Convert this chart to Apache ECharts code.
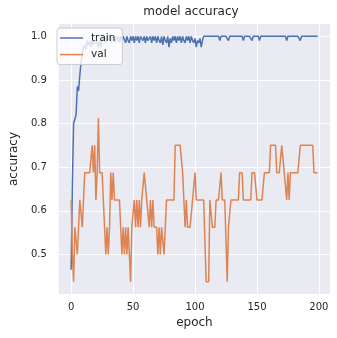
<!DOCTYPE html>
<html>
<head>
<meta charset="utf-8">
<script src="https://cdn.jsdelivr.net/npm/echarts@6/dist/echarts.min.js"></script>
<style>
html,body{margin:0;padding:0;background:#fff;}
#chart{width:337px;height:338px;}
</style>
</head>
<body>
<div id="chart"></div>
<script>
var trainAcc = [
  0.465, 0.66, 0.80, 0.80, 0.82, 0.885, 0.875, 0.91, 0.94, 0.96,
  0.975, 0.98, 0.97, 0.99, 0.98, 0.99, 0.975, 0.99, 0.98, 0.99,
  0.99, 0.985, 0.975, 0.99, 0.975, 0.99, 1.0, 0.99, 0.985, 1.0,
  0.99, 1.0, 0.985, 0.995, 1.0, 0.985, 1.0, 0.99, 1.0, 0.985,
  1.0, 0.99, 1.0, 1.0, 0.985, 1.0, 0.99, 0.985, 1.0, 0.99,
  1.0, 0.985, 1.0, 0.99, 1.0, 0.985, 1.0, 1.0, 0.99, 1.0,
  0.985, 1.0, 0.99, 0.995, 1.0, 0.985, 1.0, 0.99, 1.0, 0.985,
  1.0, 0.99, 0.985, 1.0, 0.98, 1.0, 0.99, 0.985, 1.0, 0.975,
  0.995, 0.985, 1.0, 0.99, 1.0, 0.985, 1.0, 0.99, 1.0, 0.985,
  1.0, 0.99, 0.985, 1.0, 0.99, 1.0, 0.985, 1.0, 0.99, 0.985,
  0.995, 0.975, 0.99, 0.985, 0.995, 0.975, 0.99, 1.0, 1.0, 1.0,
  1.0, 1.0, 1.0, 1.0, 1.0, 1.0, 1.0, 1.0, 1.0, 1.0,
  0.99, 1.0, 1.0, 1.0, 1.0, 1.0, 1.0, 0.99, 1.0, 1.0,
  1.0, 1.0, 1.0, 1.0, 1.0, 1.0, 1.0, 1.0, 1.0, 0.99,
  1.0, 1.0, 1.0, 1.0, 1.0, 1.0, 0.99, 1.0, 1.0, 1.0,
  1.0, 1.0, 0.99, 1.0, 1.0, 1.0, 1.0, 1.0, 1.0, 1.0,
  1.0, 1.0, 1.0, 1.0, 1.0, 1.0, 1.0, 1.0, 1.0, 1.0,
  1.0, 1.0, 1.0, 1.0, 0.99, 1.0, 1.0, 1.0, 1.0, 1.0,
  1.0, 1.0, 1.0, 1.0, 1.0, 0.99, 1.0, 1.0, 1.0, 1.0,
  1.0, 1.0, 1.0, 1.0, 1.0, 1.0, 1.0, 1.0, 1.0, 1.0
];
var valAcc = [
  0.625, 0.5, 0.4375, 0.5625, 0.5625, 0.5, 0.5625, 0.625, 0.625, 0.5625,
  0.625, 0.6875, 0.6875, 0.6875, 0.6875, 0.6875, 0.6875, 0.75, 0.6875, 0.75,
  0.625, 0.6875, 0.8125, 0.6875, 0.6875, 0.6875, 0.625, 0.5625, 0.5, 0.5625,
  0.5, 0.5625, 0.6875, 0.625, 0.6875, 0.625, 0.625, 0.625, 0.625, 0.625,
  0.625, 0.5, 0.5625, 0.5, 0.5625, 0.5, 0.5625, 0.5, 0.4375, 0.5625,
  0.5625, 0.625, 0.5625, 0.625, 0.5625, 0.625, 0.5625, 0.625, 0.625, 0.6875,
  0.6875, 0.625, 0.625, 0.5625, 0.625, 0.5625, 0.625, 0.5625, 0.5625, 0.5625,
  0.5, 0.5625, 0.5, 0.5625, 0.5625, 0.5, 0.5625, 0.625, 0.625, 0.625,
  0.625, 0.625, 0.625, 0.625, 0.75, 0.75, 0.75, 0.75, 0.75, 0.75,
  0.6875, 0.6875, 0.5625, 0.625, 0.5625, 0.5625, 0.5625, 0.5625, 0.625, 0.625,
  0.6875, 0.625, 0.625, 0.625, 0.625, 0.625, 0.625, 0.625, 0.625, 0.4375,
  0.4375, 0.4375, 0.625, 0.625, 0.5625, 0.5625, 0.5625, 0.625, 0.625, 0.625,
  0.625, 0.6875, 0.625, 0.625, 0.625, 0.625, 0.4375, 0.5625, 0.5625, 0.625,
  0.625, 0.625, 0.625, 0.625, 0.625, 0.625, 0.6875, 0.6875, 0.6875, 0.625,
  0.625, 0.625, 0.625, 0.625, 0.625, 0.625, 0.6875, 0.6875, 0.6875, 0.6875,
  0.625, 0.625, 0.625, 0.625, 0.625, 0.625, 0.6875, 0.6875, 0.6875, 0.6875,
  0.6875, 0.75, 0.75, 0.75, 0.75, 0.75, 0.6875, 0.6875, 0.6875, 0.6875,
  0.75, 0.75, 0.6875, 0.6875, 0.625, 0.6875, 0.625, 0.6875, 0.6875, 0.6875,
  0.6875, 0.6875, 0.6875, 0.6875, 0.6875, 0.75, 0.75, 0.75, 0.75, 0.75,
  0.75, 0.75, 0.75, 0.75, 0.75, 0.75, 0.6875, 0.6875, 0.6875, 0.6875
];
var xTicks = [0, 50, 100, 150, 200];
var yTicks = [0.5, 0.6, 0.7, 0.8, 0.9, 1.0];
var seriesNames = ['train', 'val'];

var chart = echarts.init(document.getElementById('chart'), null, {renderer: 'canvas'});
var FONT = 'DejaVu Sans';
var TXT = '#262626';
function pairs(arr){ return arr.map(function(v, i){ return [i, v]; }); }

chart.setOption({
  animation: false,
  backgroundColor: '#ffffff',
  title: {
    text: 'model accuracy',
    left: 191, top: 6, textAlign: 'center', padding: 0,
    textStyle: {fontFamily: FONT, fontSize: 12, fontWeight: 'normal', color: TXT}
  },
  legend: {
    orient: 'vertical',
    left: 57, top: 28,
    padding: [4, 7, 4, 3],
    icon: 'rect',
    itemWidth: 23, itemHeight: 1.5, itemGap: 4.6,
    backgroundColor: 'rgba(255,255,255,0.8)',
    borderColor: '#cccccc', borderWidth: 1, borderRadius: 3,
    textStyle: {fontFamily: FONT, fontSize: 10.5, lineHeight: 12, color: TXT, padding: [0, 0, 0, 3]},
    data: seriesNames
  },
  grid: {
    left: 52, right: 7, top: 24, bottom: 44,
    show: true, backgroundColor: '#EAEAF2', borderWidth: 0
  },
  xAxis: {
    type: 'value', min: -9.95, max: 208.95,
    name: 'epoch', nameLocation: 'middle', nameGap: 23,
    nameTextStyle: {fontFamily: FONT, fontSize: 12, color: TXT},
    axisLine: {show: false},
    axisTick: {show: false, customValues: xTicks},
    axisLabel: {customValues: xTicks, fontFamily: FONT, fontSize: 10, color: TXT, margin: 8},
    splitLine: {show: true, lineStyle: {color: '#ffffff', width: 1}}
  },
  yAxis: {
    type: 'value', min: 0.409375, max: 1.028125,
    name: 'accuracy', nameLocation: 'middle', nameGap: 34,
    nameTextStyle: {fontFamily: FONT, fontSize: 12, color: TXT},
    axisLine: {show: false},
    axisTick: {show: false, customValues: yTicks},
    axisLabel: {customValues: yTicks, fontFamily: FONT, fontSize: 10, color: TXT, margin: 12,
      formatter: function(v){ return v.toFixed(1); }},
    splitLine: {show: true, lineStyle: {color: '#ffffff', width: 1}}
  },
  series: [
    {name: seriesNames[0], type: 'line', data: pairs(trainAcc), symbol: 'none',
      lineStyle: {color: '#4C72B0', width: 1.5}, itemStyle: {color: '#4C72B0'}},
    {name: seriesNames[1], type: 'line', data: pairs(valAcc), symbol: 'none',
      lineStyle: {color: '#DD8452', width: 1.5}, itemStyle: {color: '#DD8452'}}
  ]
});
</script>
</body>
</html>
